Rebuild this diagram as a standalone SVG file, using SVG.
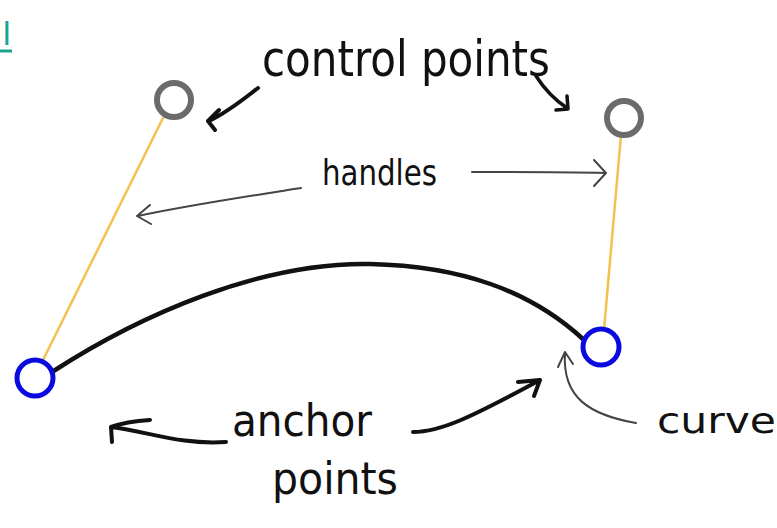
<svg xmlns="http://www.w3.org/2000/svg" width="777" height="528" viewBox="0 0 777 528">
<style>
.ink{fill:none;stroke:#111;stroke-linecap:round;stroke-linejoin:round}
.hand{font-family:"DejaVu Sans Condensed","DejaVu Sans",sans-serif;fill:#111}
.handle{stroke:#f2c14e;stroke-width:2.5;fill:none}
.ctrl{fill:none;stroke:#6b6b6b;stroke-width:6}
.anchor{fill:none;stroke:#0a0ae0;stroke-width:5}
.thin{fill:none;stroke:#444;stroke-width:2;stroke-linecap:round;stroke-linejoin:round}
</style>
<rect width="777" height="528" fill="#fff"/>
<g id="link">
<text x="3" y="45" font-family="Liberation Sans,sans-serif" font-size="34" fill="#1aa391">l</text>
<line x1="0" y1="51" x2="12" y2="51" stroke="#1aa391" stroke-width="3"/>
</g>
<g id="connectors">
<line class="handle" x1="42" y1="362" x2="165" y2="114"/>
<line class="handle" x1="604" y1="330" x2="621" y2="135"/>
<path d="M52,372 C140,315 260,262 370,264 C460,266 530,290 584,340" fill="none" stroke="#111" stroke-width="4.5" stroke-linecap="round"/>
<path class="ink" stroke-width="4" d="M258,88 C245,98 228,112 209,121 M219,110 L208,121 L215,130"/>
<path class="ink" stroke-width="3.5" d="M536,76 C545,90 555,100 567,108 M567,96 L568,109 L556,110"/>
<path class="thin" d="M301,188 C250,196 190,205 138,216 M150,205 L137,216 L151,224"/>
<path class="thin" d="M472,172 C520,172 560,172 606,173 M594,160 L606,173 L594,186"/>
<path class="ink" stroke-width="4" d="M226,442 C180,445 150,432 111,427 M150,420 C135,421 122,423 111,427 L112,442"/>
<path class="ink" stroke-width="4" d="M413,432 C440,432 470,418 540,380 M518,382 L540,380 L534,396"/>
<path class="thin" d="M636,423 C590,415 562,398 565,353 M558,367 L565,352 L573,364"/>
</g>
<g id="control-left"><circle class="ctrl" cx="174" cy="100" r="17"/></g>
<g id="control-right"><circle class="ctrl" cx="624" cy="118" r="17"/></g>
<g id="anchor-left"><circle class="anchor" cx="35" cy="378" r="18"/></g>
<g id="anchor-right"><circle class="anchor" cx="601" cy="347" r="18"/></g>
<g id="labels">
<text class="hand" x="262" y="76" font-size="50" textLength="288" lengthAdjust="spacingAndGlyphs">control points</text>
<text class="hand" x="322" y="185" font-size="36" textLength="115" lengthAdjust="spacingAndGlyphs">handles</text>
<text class="hand" x="232" y="436" font-size="44" textLength="140" lengthAdjust="spacingAndGlyphs">anchor</text>
<text class="hand" x="272" y="494" font-size="44" textLength="126" lengthAdjust="spacingAndGlyphs">points</text>
<text class="hand" x="657" y="433" font-size="36" fill="#333" textLength="119" lengthAdjust="spacingAndGlyphs">curve</text>
</g>
</svg>
